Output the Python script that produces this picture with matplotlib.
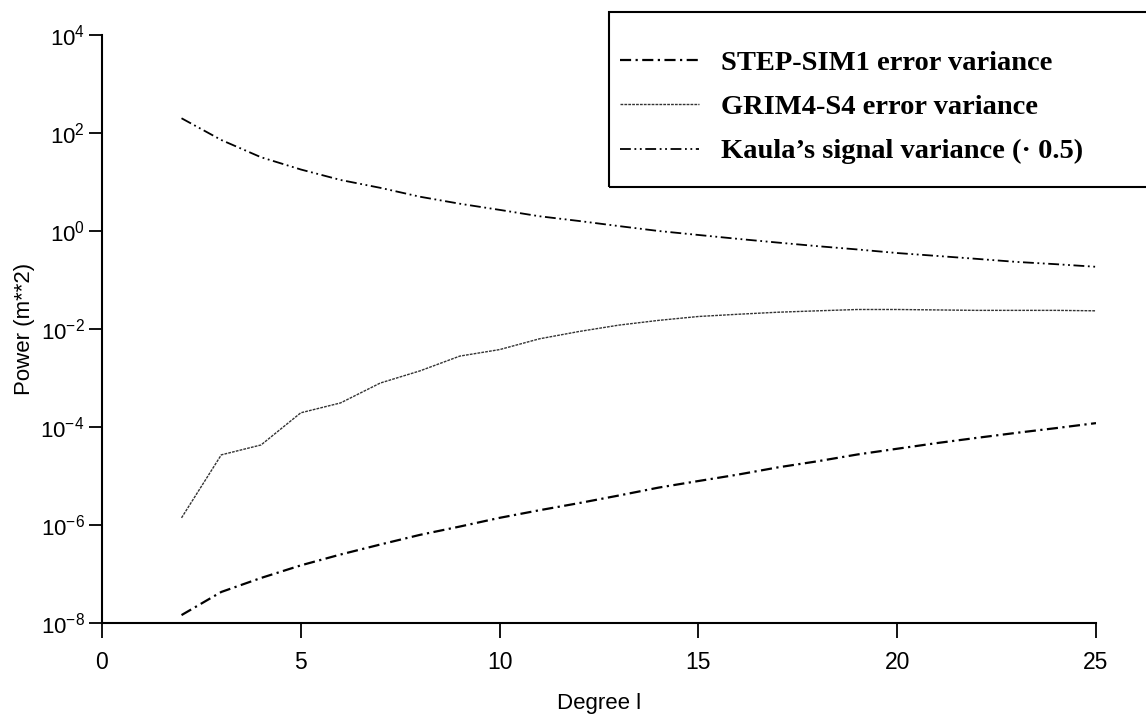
import matplotlib
matplotlib.use("Agg")
import matplotlib.pyplot as plt
from matplotlib.patches import Rectangle
from matplotlib.ticker import FixedLocator, FixedFormatter, NullLocator

# ---- data ----
degrees = [2, 3, 4, 5, 6, 7, 8, 9, 10, 11, 12, 13, 14, 15, 16, 17, 18, 19, 20, 21, 22, 23, 24, 25]

step_sim1 = [1.45e-8, 4.3e-8, 8.3e-8, 1.5e-7, 2.5e-7, 4.0e-7, 6.3e-7, 9.3e-7, 1.4e-6, 2.0e-6,
             2.8e-6, 4.0e-6, 5.8e-6, 7.9e-6, 1.07e-5, 1.5e-5, 2.0e-5, 2.75e-5, 3.6e-5, 4.7e-5,
             6.0e-5, 7.6e-5, 9.5e-5, 1.2e-4]

grim4_s4 = [1.4e-6, 2.7e-5, 4.3e-5, 1.95e-4, 3.1e-4, 7.9e-4, 1.4e-3, 2.8e-3, 3.8e-3, 6.3e-3,
            8.9e-3, 1.2e-2, 1.5e-2, 1.8e-2, 2.0e-2, 2.2e-2, 2.35e-2, 2.5e-2, 2.5e-2, 2.45e-2,
            2.4e-2, 2.4e-2, 2.4e-2, 2.35e-2]

kaula_half = [200, 72, 32, 18, 11, 7.6, 5.0, 3.6, 2.7, 2.0, 1.6, 1.26, 1.0, 0.83, 0.69, 0.58,
              0.49, 0.42, 0.355, 0.31, 0.27, 0.234, 0.21, 0.186]

labels = ["STEP-SIM1 error variance", "GRIM4-S4 error variance", "Kaula\u2019s signal variance (\u00b7 0.5)"]

x_ticks = [0, 5, 10, 15, 20, 25]
y_ticks = [1e-8, 1e-6, 1e-4, 1e-2, 1e0, 1e2, 1e4]
y_tick_labels = [r"$\mathregular{10^{-8}}$", r"$\mathregular{10^{-6}}$", r"$\mathregular{10^{-4}}$",
                 r"$\mathregular{10^{-2}}$", r"$\mathregular{10^{0}}$", r"$\mathregular{10^{2}}$",
                 r"$\mathregular{10^{4}}$"]

# ---- styling ----
plt.rcParams["font.family"] = ["Liberation Sans", "DejaVu Sans"]
plt.rcParams["mathtext.fontset"] = "custom"
plt.rcParams["mathtext.rm"] = "Liberation Sans"

W, H = 1146, 720
fig = plt.figure(figsize=(W / 100, H / 100), dpi=100)
ax = fig.add_axes([102 / W, 1 - 623 / H, (1096 - 102) / W, (623 - 35) / H])

l1, = ax.plot(degrees, step_sim1, color="black", lw=1.6, linestyle=(0, (5, 2, 1, 2)))
l2, = ax.plot(degrees, grim4_s4, color="#333333", lw=1.0, linestyle=(0, (2, 0.8)))
l3, = ax.plot(degrees, kaula_half, color="black", lw=1.3, linestyle=(0, (6, 2, 1, 2, 1, 2)))

ax.set_yscale("log")
ax.set_xlim(0, 25)
ax.set_ylim(1e-8, 1e4)
ax.xaxis.set_major_locator(FixedLocator(x_ticks))
ax.yaxis.set_major_locator(FixedLocator(y_ticks))
ax.yaxis.set_major_formatter(FixedFormatter(y_tick_labels))
ax.yaxis.set_minor_locator(NullLocator())
ax.xaxis.set_minor_locator(NullLocator())

for s in ["top", "right"]:
    ax.spines[s].set_visible(False)
for s in ["left", "bottom"]:
    ax.spines[s].set_linewidth(1.5)

ax.tick_params(axis="x", direction="out", length=11, width=1.3, labelsize=16.5, pad=9)
ax.tick_params(axis="y", direction="out", length=9.5, width=1.3, labelsize=16, pad=3)

ax.set_xlabel("Degree l", fontsize=16, labelpad=14)
ax.set_ylabel("Power (m**2)", fontsize=16, labelpad=4)

# legend box (extends past right edge)
rect = Rectangle((609 / W, 1 - 187 / H), 1.0, (187 - 12) / H, transform=fig.transFigure,
                 fill=False, edgecolor="black", lw=1.5, clip_on=False)
fig.patches.append(rect)

leg = fig.legend([l1, l2, l3], labels, loc="upper left",
                 bbox_to_anchor=(606 / W, 1 - 36 / H), frameon=False,
                 prop={"family": "Liberation Serif", "weight": "bold", "size": 20.5},
                 handlelength=2.75, handletextpad=0.78, labelspacing=0.64, borderpad=0)

fig.savefig("out.png", dpi=100)
